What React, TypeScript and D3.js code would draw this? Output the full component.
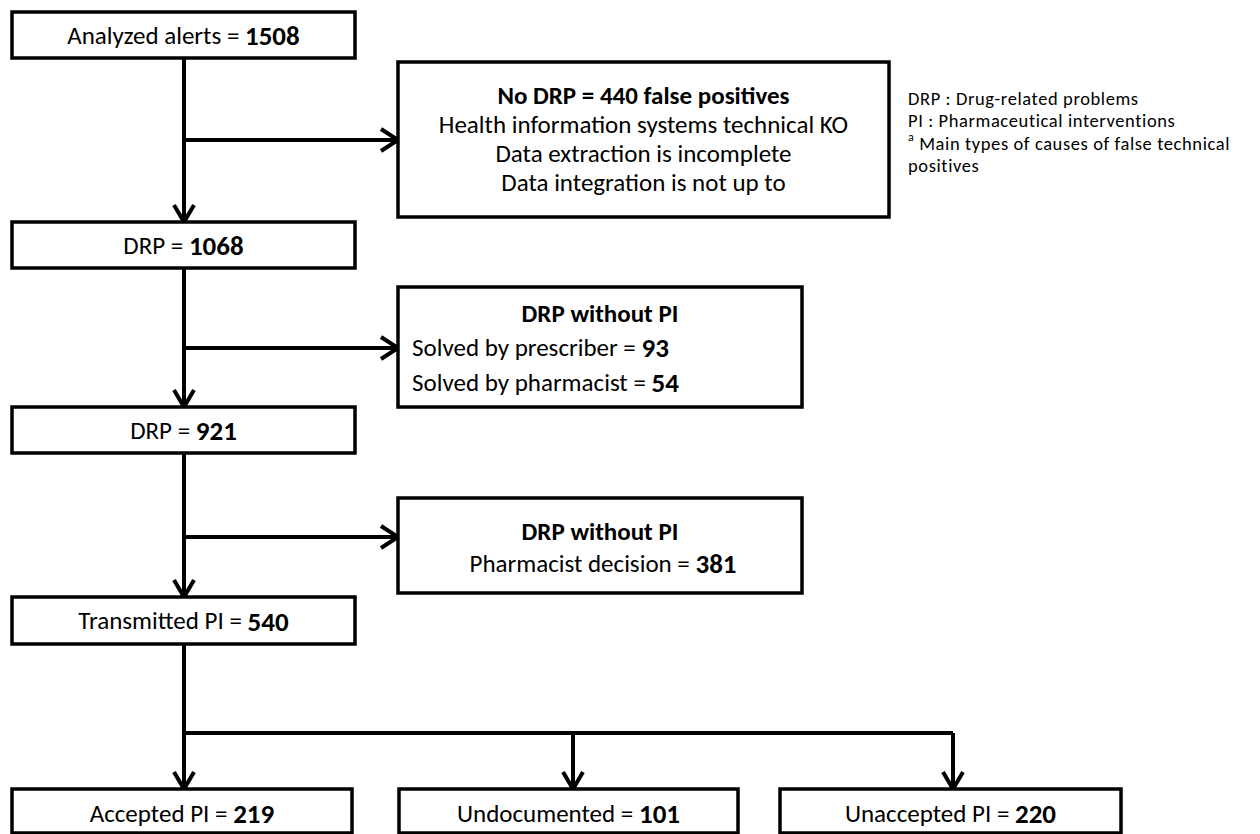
import * as d3 from 'd3';

// main chain of stages (left column)
const stageLabels = ['Analyzed alerts', 'DRP', 'DRP', 'Transmitted PI'];
const stageCounts = [1508, 1068, 921, 540];

// side boxes
const noDrpCount = 440;
const falsePositiveCauses = [
  'Health information systems technical KO',
  'Data extraction is incomplete',
  'Data integration is not up to',
];
const solvedLabels = ['Solved by prescriber', 'Solved by pharmacist'];
const solvedCounts = [93, 54];
const decisionLabel = 'Pharmacist decision';
const decisionCount = 381;

// final outcomes
const outcomeLabels = ['Accepted PI', 'Undocumented', 'Unaccepted PI'];
const outcomeCounts = [219, 101, 220];

const legendLines = ['DRP : Drug-related problems', 'PI : Pharmaceutical interventions'];
const legendNote = ['Main types of causes of false technical', 'positives'];

const W = 1260;
const H = 834;
const FONT = 'Carlito, Calibri, Lato, sans-serif';
const FS = 25;

// layout
const trunkX = 184;
const leftBox = { x0: 12, x1: 355 };
const stageY = [
  [12, 58],
  [222, 268],
  [407, 453],
  [597, 644],
];
const sideBox = [
  { x0: 398, x1: 889, y0: 62, y1: 217, arrowY: 140 },
  { x0: 398, x1: 802, y0: 287, y1: 407, arrowY: 348 },
  { x0: 398, x1: 802, y0: 498, y1: 593, arrowY: 537 },
];
const splitY = 733;
const outcomeBoxes = [
  { x0: 12, x1: 352 },
  { x0: 399, x1: 738 },
  { x0: 780, x1: 1121 },
];
const branchX = [184, 573, 953];
const outcomeY = [789, 833];

const line = d3.line<[number, number]>();

const headDown = (x: number, y: number) =>
  line([
    [x - 10, y - 17],
    [x, y],
    [x + 10, y - 17],
  ]);
const headRight = (x: number, y: number) =>
  line([
    [x - 17, y - 11],
    [x, y],
    [x - 17, y + 11],
  ]);

const Box = ({ x0, x1, y0, y1 }: { x0: number; x1: number; y0: number; y1: number }) => (
  <rect x={x0} y={y0} width={x1 - x0} height={y1 - y0} fill="#fff" stroke="#000" strokeWidth={3.5} />
);

const Label = ({ x, y, text, count, anchor = 'middle' }: any) => (
  <text x={x} y={y} textAnchor={anchor} dominantBaseline="central" fontSize={FS} fontFamily={FONT}>
    {text} = <tspan fontWeight="bold" fontSize={FS + 2}>{count}</tspan>
  </text>
);

export default function App() {
  const cx = (leftBox.x0 + leftBox.x1) / 2;
  const legendStep = 22.5;

  return (
    <svg
      width={W}
      height={H}
      style={{ position: 'absolute', left: 0, top: 0, background: '#fff' }}
      fontFamily={FONT}
    >
      <rect width={W} height={H} fill="#fff" />
      <g fill="none" stroke="#000" strokeWidth={4}>
        {/* trunk between stages */}
        {stageY.slice(0, 3).map((s, i) => (
          <g key={i}>
            <path d={line([[trunkX, s[1]], [trunkX, stageY[i + 1][0]]])!} />
            <path d={headDown(trunkX, stageY[i + 1][0])!} />
            <path d={line([[trunkX, sideBox[i].arrowY], [sideBox[i].x0, sideBox[i].arrowY]])!} />
            <path d={headRight(sideBox[i].x0, sideBox[i].arrowY)!} />
          </g>
        ))}
        {/* split to outcomes */}
        <path d={line([[trunkX, stageY[3][1]], [trunkX, splitY]])!} />
        <path d={line([[branchX[0], splitY], [branchX[2], splitY]])!} />
        {branchX.map((bx, i) => (
          <g key={i}>
            <path d={line([[bx, splitY], [bx, outcomeY[0]]])!} />
            <path d={headDown(bx, outcomeY[0])!} />
          </g>
        ))}
      </g>

      {stageLabels.map((lab, i) => (
        <g key={i}>
          <Box x0={leftBox.x0} x1={leftBox.x1} y0={stageY[i][0]} y1={stageY[i][1]} />
          <Label x={cx} y={(stageY[i][0] + stageY[i][1]) / 2} text={lab} count={stageCounts[i]} />
        </g>
      ))}

      {/* false positives */}
      <Box {...sideBox[0]} />
      <g fontSize={FS} textAnchor="middle" dominantBaseline="central">
        <text x={(sideBox[0].x0 + sideBox[0].x1) / 2} y={95} fontWeight="bold">
          No DRP = {noDrpCount} false positives
        </text>
        {falsePositiveCauses.map((c, i) => (
          <text key={c} x={(sideBox[0].x0 + sideBox[0].x1) / 2} y={124 + i * 29}>
            {c}
          </text>
        ))}
      </g>

      {/* solved without PI */}
      <Box {...sideBox[1]} />
      <text
        x={(sideBox[1].x0 + sideBox[1].x1) / 2}
        y={313}
        textAnchor="middle"
        dominantBaseline="central"
        fontSize={FS}
        fontWeight="bold"
      >
        DRP without PI
      </text>
      {solvedLabels.map((s, i) => (
        <Label key={s} x={412} y={347 + i * 35} text={s} count={solvedCounts[i]} anchor="start" />
      ))}

      {/* pharmacist decision */}
      <Box {...sideBox[2]} />
      <text
        x={(sideBox[2].x0 + sideBox[2].x1) / 2}
        y={531}
        textAnchor="middle"
        dominantBaseline="central"
        fontSize={FS}
        fontWeight="bold"
      >
        DRP without PI
      </text>
      <Label x={(sideBox[2].x0 + sideBox[2].x1) / 2 + 3} y={563} text={decisionLabel} count={decisionCount} />

      {/* outcomes */}
      {outcomeLabels.map((lab, i) => (
        <g key={lab}>
          <Box x0={outcomeBoxes[i].x0} x1={outcomeBoxes[i].x1} y0={outcomeY[0]} y1={outcomeY[1]} />
          <Label
            x={(outcomeBoxes[i].x0 + outcomeBoxes[i].x1) / 2}
            y={813}
            text={lab}
            count={outcomeCounts[i]}
          />
        </g>
      ))}

      {/* legend */}
      <g fontSize={18.5} letterSpacing={0.6} dominantBaseline="central">
        {legendLines.map((l, i) => (
          <text key={l} x={908} y={98 + i * legendStep}>
            {l}
          </text>
        ))}
        <text x={908} y={98 + 2 * legendStep}>
          <tspan fontSize={12} dy={-6}>a</tspan>
          <tspan dy={6}> {legendNote[0]}</tspan>
        </text>
        <text x={908} y={98 + 3 * legendStep}>
          {legendNote[1]}
        </text>
      </g>
    </svg>
  );
}
